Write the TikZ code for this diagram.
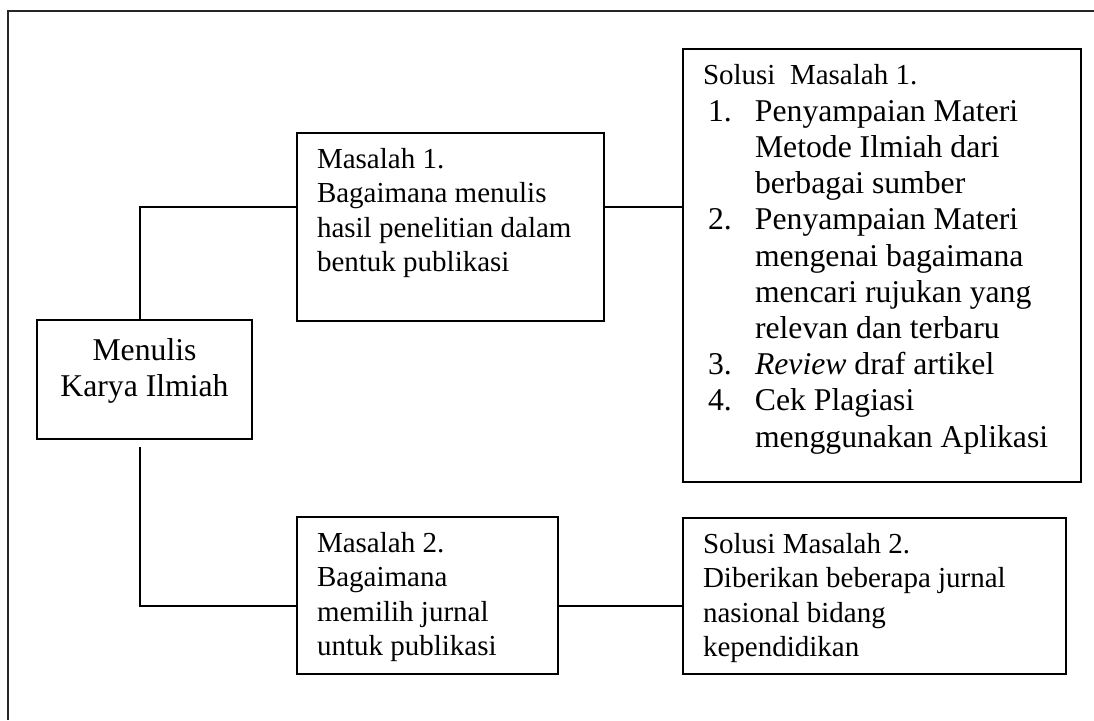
\documentclass[tikz,border=0pt]{standalone}
\usepackage{fontspec}
\setmainfont{Liberation Serif}
\usepackage{tikz}
\tikzstyle{kotak}=[draw, line width=2pt, rectangle, anchor=north west, inner xsep=20pt, inner ysep=15pt]
\tikzstyle{garis}=[line width=2pt]
\newcommand{\isi}[3]{\parbox[t][#2][t]{#1}{#3}}
\newcommand{\biasa}{\fontsize{29}{34.6}\selectfont}
\newcommand{\besar}{\fontsize{31.7}{36.2}\selectfont}
\newcommand{\butir}[2]{\hangindent=52pt\hangafter=1\noindent\makebox[52pt][l]{\hspace{5pt}#1}#2\par}

\begin{document}
\begin{tikzpicture}[x=1pt,y=-1pt]
\useasboundingbox (0,0) rectangle (1094,720);
% bingkai luar
\draw[line width=1.5pt, black!85] (1094,11) -- (8,11) -- (8,720);

\node[kotak, inner xsep=10pt, inner ysep=18pt] (menulis) at (36,319)
  {\isi{195pt}{83pt}{\centering\besar Menulis\\ Karya Ilmiah}};
\node[kotak] (masalah1) at (296,132)
  {\isi{267pt}{158pt}{\biasa Masalah 1.\\ Bagaimana menulis\\ hasil penelitian dalam\\ bentuk publikasi}};
\node[kotak] (solusi1) at (682,48)
  {\isi{358pt}{403pt}{\biasa Solusi\ \ Masalah 1.\par\vspace{1pt}\besar
    \butir{1.}{Penyampaian Materi\\ Metode Ilmiah dari\\ berbagai sumber}
    \butir{2.}{Penyampaian Materi\\ mengenai bagaimana\\ mencari rujukan yang\\ relevan dan terbaru}
    \butir{3.}{\textit{Review} draf artikel}
    \butir{4.}{Cek Plagiasi\\ menggunakan Aplikasi}}};
\node[kotak] (masalah2) at (296,516)
  {\isi{221pt}{127pt}{\biasa Masalah 2.\\ Bagaimana\\ memilih jurnal\\ untuk publikasi}};
\node[kotak] (solusi2) at (682,517)
  {\isi{343pt}{126pt}{\biasa Solusi Masalah 2.\\ Diberikan beberapa jurnal\\ nasional bidang\\ kependidikan}};

% penghubung
\coordinate (a1) at ([yshift=-75pt]masalah1.north west);
\coordinate (a2) at ([yshift=-75pt]masalah1.north east);
\coordinate (b1) at ([yshift=-90pt]masalah2.north west);
\coordinate (b2) at ([yshift=-90pt]masalah2.north east);
\draw[garis] ([xshift=-5pt]menulis.north) |- (a1);
\draw[garis] (a2) -- (a2 -| solusi1.west);
\draw[garis] ([xshift=-5pt,yshift=-7pt]menulis.south) |- (b1);
\draw[garis] (b2) -- (b2 -| solusi2.west);
\end{tikzpicture}
\end{document}
